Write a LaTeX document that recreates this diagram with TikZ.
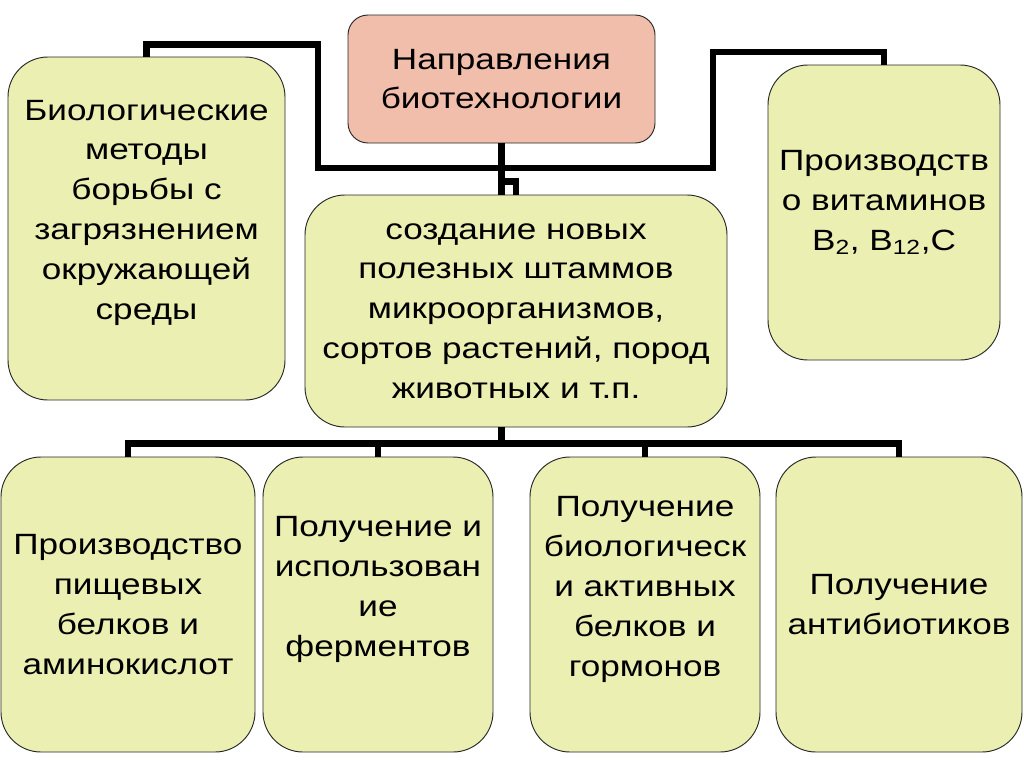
\documentclass[tikz,border=0pt]{standalone}
\usepackage{fontspec}
\setmainfont{Liberation Sans}[FakeStretch=1.2]
\usepackage{tikz}

\definecolor{boxgreen}{RGB}{235,239,178}
\definecolor{boxpink}{RGB}{242,190,172}
\newcommand{\padbot}[1]{\rule[-#1]{0pt}{0pt}}

\begin{document}
\begin{tikzpicture}[x=0.3mm,y=-0.3mm,
    box/.style={draw=black!85,line width=0.8pt,fill=boxgreen,rounded corners=12mm,
      align=center,inner sep=0pt,font=\fontsize{25}{34}\selectfont},
    link/.style={draw=black,line width=2mm}]
  \useasboundingbox (0,0) rectangle (1024,767);

  \node[box,fill=boxpink,rounded corners=6mm,minimum width=92.1mm,minimum height=38.4mm] (dirs) at (501.5,79) {Направления\\биотехнологии};
  \node[box,minimum width=83.1mm,minimum height=102.9mm] (bio) at (146.5,228.5) {Биологические\\методы\\борьбы с\\загрязнением\\окружающей\\среды\padbot{11.4mm}};
  \node[box,minimum width=126.6mm,minimum height=69.6mm] (strain) at (516,311) {создание новых\\полезных штаммов\\микроорганизмов,\\сортов растений, пород\\животных и т.п.};
  \node[box,minimum width=69.6mm,minimum height=88.5mm] (vit) at (884,212.5) {Производств\\о витаминов\\B\textsubscript{2}, B\textsubscript{12},C\padbot{7.2mm}};

  \node[box,minimum width=76.2mm,minimum height=88.5mm] (food) at (128,604.5) {Производство\\пищевых\\белков и\\аминокислот};
  \node[box,minimum width=69mm,minimum height=88.5mm] (enz) at (378,604.5) {Получение и\\использован\\ие\\ферментов\padbot{10.8mm}};
  \node[box,minimum width=69mm,minimum height=88.5mm] (prot) at (645,604.5) {Получение\\биологическ\\и активных\\белков и\\гормонов\padbot{10.8mm}};
  \node[box,minimum width=73.8mm,minimum height=88.5mm] (anti) at (899,604.5) {Получение\\антибиотиков};

  % side branches
  \coordinate (bendL) at (318,168);
  \coordinate (bendR) at (713,168);
  \draw[link] (bio.north) -- ++(0,-12) -| (bendL) -- (bendR) -- ++(0,-116) -| (vit.north);

  % centre
  \draw[link] (dirs.south) -- (dirs.south |- strain.north);
  \draw[link] (dirs.south) -- ++(0,38) -| (strain.north);

  % lower row
  \draw[link] (dirs.south |- strain.south) -- ++(0,16) coordinate (hub);
  \foreach \b in {food,enz,prot,anti}
    \draw[link] (hub) -| (\b.north);
\end{tikzpicture}
\end{document}
